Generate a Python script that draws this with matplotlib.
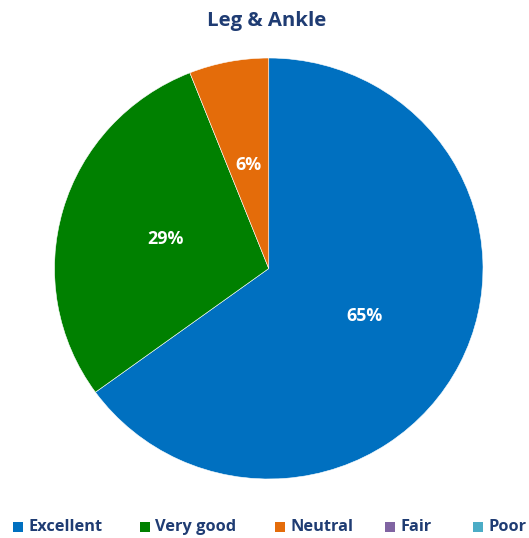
import matplotlib
matplotlib.use("Agg")
import matplotlib.pyplot as plt
from matplotlib.patches import Rectangle

categories = ["Excellent", "Very good", "Neutral", "Fair", "Poor"]
values = [65, 29, 6, 0, 0]
colors = ["#0070C0", "#008000", "#E46C0A", "#8064A2", "#4BACC6"]
title = "Leg & Ankle"

plt.rcParams['font.family'] = ['Open Sans', 'DejaVu Sans']
text_color = "#1F3C73"

fig = plt.figure(figsize=(5.29, 5.38), dpi=100)
ax = fig.add_axes([54.5 / 529, (538 - 479) / 538, 428.5 / 529, 421 / 538])

vals = [v for v in values if v > 0]
cols = [c for v, c in zip(values, colors) if v > 0]
wedges, texts, autotexts = ax.pie(
    vals, colors=cols, startangle=90, counterclock=False,
    autopct=lambda p: f"{p:.0f}%", pctdistance=0.5,
    wedgeprops=dict(edgecolor="white", linewidth=0.4),
    textprops=dict(color="white", fontsize=12.8, fontweight="bold"))
ax.set_aspect("auto")
ax.set_xlim(-1, 1)
ax.set_ylim(-1, 1)

fig.text(266.5 / 529, 1 - 21 / 538, title, ha="center", va="center",
         fontsize=14.7, fontweight="bold", color=text_color)

# legend
xs = [13, 140, 275, 385, 473]
ly = 1 - 527 / 538
for x, cat, col in zip(xs, categories, colors):
    fig.patches.append(Rectangle((x / 529, ly - 4.5 / 538), 9.5 / 529, 9.5 / 538,
                                 transform=fig.transFigure, facecolor=col,
                                 edgecolor="none"))
    fig.text((x + 15) / 529, ly, cat, ha="left", va="center",
             fontsize=11.8, fontweight="bold", color=text_color)

fig.savefig("out.png", dpi=100)
